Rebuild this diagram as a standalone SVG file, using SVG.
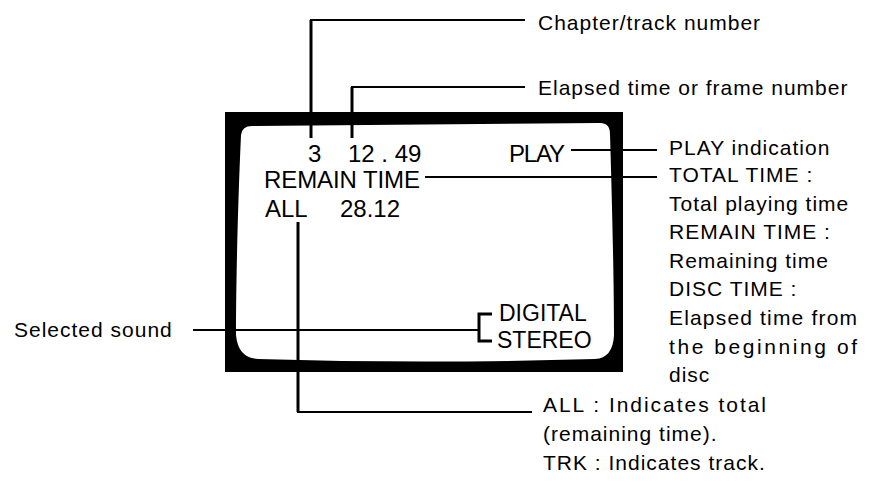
<svg xmlns="http://www.w3.org/2000/svg" width="880" height="483" viewBox="0 0 880 483">
<style>
text{font-family:"Liberation Sans",Arial,sans-serif;fill:#000}
.tv{font-size:24px}
.lb{font-size:21px;letter-spacing:1px}
.ln{stroke:#000;stroke-width:2;fill:none}
.vl{stroke:#000;stroke-width:3;fill:none}
</style>
<rect width="880" height="483" fill="#fff"/>
<g id="tv">
<rect x="225" y="112" width="398" height="260" fill="#000"/>
<path d="M252,126 L600,123 Q610,123 610,134 C612,200 614,280 614,335 Q613,358 595,359 Q425,364 258,359 Q238,358 236,335 C236,280 238,200 241,135 Q242,126 252,126 Z" fill="#fff"/>
</g>
<g id="screen-text" class="tv">
<text x="308" y="162">3</text>
<text x="348" y="162">12 . 49</text>
<text x="509" y="162" textLength="56">PLAY</text>
<text x="264" y="188" textLength="156">REMAIN TIME</text>
<text x="265" y="217">ALL</text>
<text x="340" y="217">28.12</text>
</g>
<g id="sound-text" style="font-size:23px">
<text x="499" y="321">DIGITAL</text>
<text x="497" y="348">STEREO</text>
</g>
<g id="connectors">
<polyline class="vl" points="311,138 311,20"/>
<line class="ln" x1="310" y1="20" x2="525" y2="20"/>
<polyline class="vl" points="352,138 352,87"/>
<line class="ln" x1="351" y1="87" x2="525" y2="87"/>
<line class="ln" x1="571" y1="150" x2="657" y2="150"/>
<line class="ln" x1="425" y1="177" x2="657" y2="177"/>
<polyline class="vl" points="298,222 298,412"/>
<line class="ln" x1="297" y1="412" x2="532" y2="412"/>
<line class="ln" x1="193" y1="330" x2="479" y2="330"/>
<polyline class="vl" points="492,314 479,314 479,341 492,341"/>
</g>
<g id="label-chapter" class="lb"><text x="538" y="30">Chapter/track number</text></g>
<g id="label-elapsed" class="lb"><text x="538" y="95">Elapsed time or frame number</text></g>
<g id="label-play" class="lb">
<text x="669" y="155">PLAY indication</text>
<text x="669" y="182">TOTAL TIME :</text>
<text x="669" y="210.5">Total playing time</text>
<text x="669" y="239">REMAIN TIME :</text>
<text x="669" y="267.5">Remaining time</text>
<text x="669" y="296">DISC TIME :</text>
<text x="669" y="325" textLength="189" lengthAdjust="spacing">Elapsed time from</text>
<text x="669" y="353.5" textLength="189" lengthAdjust="spacing">the beginning of</text>
<text x="669" y="382">disc</text>
</g>
<g id="label-sound" class="lb"><text x="14" y="337">Selected sound</text></g>
<g id="label-all" class="lb">
<text x="543" y="412" textLength="224" lengthAdjust="spacing">ALL : Indicates total</text>
<text x="543" y="441">(remaining time).</text>
<text x="543" y="470">TRK : Indicates track.</text>
</g>
</svg>
